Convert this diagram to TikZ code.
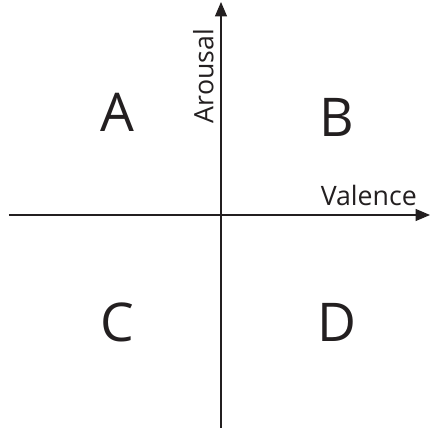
\documentclass[tikz,border=0pt]{standalone}
\usepackage{fontspec}
\setmainfont{Open Sans}
\usepackage{graphicx}
\usepackage{tikz}
\usetikzlibrary{arrows.meta, positioning}
\definecolor{mydark}{RGB}{35,31,32}
\tikzset{
  axis/.style={-{Triangle[length=0.36cm, width=0.3cm]}, line width=0.75pt, color=mydark},
  quadlabel/.style={font=\fontsize{38}{38}\selectfont, text=mydark, inner sep=0pt},
  axislabel/.style={font=\fontsize{19}{19}\selectfont, text=mydark, inner sep=0pt}
}
\begin{document}
\begin{tikzpicture}
  \useasboundingbox (0,0) rectangle (10.75,10.75);
  % Axis ends
  \coordinate (vlow) at (5.525,0.05);
  \coordinate (vtop) at (5.525,10.7);
  \coordinate (hleft) at (0.22,5.375);
  \coordinate (hright) at (10.75,5.375);

  % Axes
  \draw[axis] (vlow) -- (vtop);
  \draw[axis] (hleft) -- (hright);
  \node[axislabel, anchor=east] (arousal) at (5.35,8.85) {\rotatebox{90}{Arousal}};
  \node[axislabel, anchor=south] (valence) at (9.22,5.6) {Valence};

  % Quadrants
  \node[quadlabel] (qa) at (2.93,7.93) {A};
  \node[quadlabel] (qb) at (8.43,7.82) {B};
  \node[quadlabel] (qc) at (2.93,2.68) {C};
  \node[quadlabel] (qd) at (8.43,2.68) {D};
\end{tikzpicture}
\end{document}
